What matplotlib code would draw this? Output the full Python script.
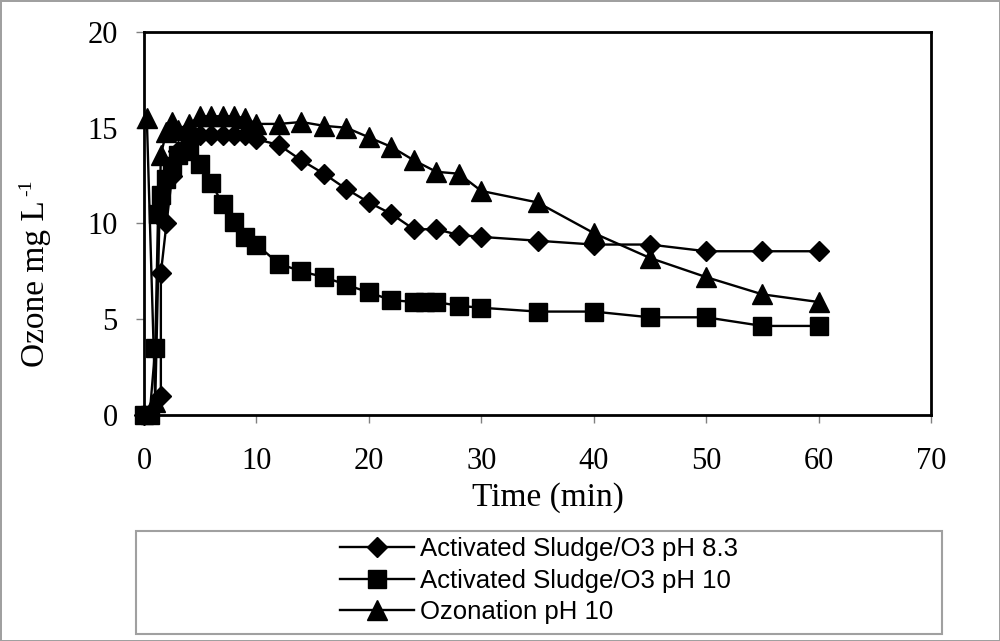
import matplotlib
matplotlib.use('Agg')
import matplotlib.pyplot as plt
from matplotlib.patches import Rectangle

# time (min) and ozone (mg/L)
t_ph83 = [0, 1.5, 1.5, 2, 2.5, 3, 4, 5, 6, 7, 8, 9, 10, 12, 14, 16, 18, 20,
          22, 24, 26, 28, 30, 35, 40, 45, 50, 55, 60]
o3_ph83 = [0, 1.0, 7.4, 10.0, 12.5, 13.8, 14.4, 14.6, 14.6, 14.6, 14.6, 14.6,
           14.4, 14.1, 13.3, 12.6, 11.8, 11.1, 10.5, 9.7, 9.7, 9.4, 9.3, 9.1,
           8.9, 8.9, 8.55, 8.55, 8.55]

t_ph10 = [0, 0.5, 1, 1.25, 1.5, 2, 2.5, 3, 4, 5, 6, 7, 8, 9, 10, 12, 14, 16,
          18, 20, 22, 24, 25, 26, 28, 30, 35, 40, 45, 50, 55, 60]
o3_ph10 = [0, 0, 3.5, 10.5, 11.5, 12.3, 13.0, 13.6, 13.8, 13.1, 12.1, 11.0,
           10.1, 9.3, 8.9, 7.9, 7.5, 7.2, 6.8, 6.4, 6.0, 5.9, 5.9, 5.9, 5.7,
           5.6, 5.4, 5.4, 5.1, 5.1, 4.65, 4.65]

t_ozon = [0.25, 1, 1.5, 2, 2.5, 3, 4, 5, 6, 7, 8, 9, 10, 12, 14, 16, 18, 20,
          22, 24, 26, 28, 30, 35, 40, 45, 50, 55, 60]
o3_ozon = [15.5, 0.7, 13.6, 14.8, 15.3, 14.9, 15.2, 15.6, 15.6, 15.6, 15.6,
           15.5, 15.2, 15.2, 15.3, 15.1, 15.0, 14.5, 14.0, 13.3, 12.7, 12.6,
           11.7, 11.1, 9.5, 8.2, 7.2, 6.3, 5.9]

labels = ['Activated Sludge/O3 pH 8.3', 'Activated Sludge/O3 pH 10',
          'Ozonation pH 10']

plt.rcParams['font.family'] = 'Liberation Serif'

fig = plt.figure(figsize=(10, 6.41), dpi=100)
fig.patch.set_edgecolor('#a0a0a0')
fig.patch.set_linewidth(2)
ax = fig.add_axes([0.144, 0.3526, 0.787, 0.5975])

l1, = ax.plot(t_ph83, o3_ph83, color='k', lw=1.7, marker='D', ms=10,
              clip_on=False, zorder=3)
l2, = ax.plot(t_ph10, o3_ph10, color='k', lw=1.7, marker='s', ms=13,
              clip_on=False, zorder=3)
l3, = ax.plot(t_ozon, o3_ozon, color='k', lw=1.7, marker='^', ms=15,
              clip_on=False, zorder=3)

ax.set_xlim(0, 70)
ax.set_ylim(0, 20)
ax.set_xticks(range(0, 71, 10))
ax.set_yticks(range(0, 21, 5))
ax.tick_params(direction='out', length=6, width=1, color='#808080',
               labelsize=22)
ax.tick_params(axis='x', pad=17)
ax.tick_params(axis='y', pad=13)
for s in ax.spines.values():
    s.set_linewidth(2)
    s.set_zorder(2.5)

fig.text(0.548, 0.224, 'Time (min)', fontsize=24, ha='center', va='center')
fig.text(0.036, 0.558, 'Ozone mg L', fontsize=24, rotation=90,
         ha='center', va='center')
fig.text(0.027, 0.707, '-1', fontsize=14, rotation=90,
         ha='center', va='center')

fig.patches.append(Rectangle((0.136, 0.011), 0.806, 0.161,
                             transform=fig.transFigure, fill=False,
                             edgecolor='#a0a0a0', lw=1.5))
fig.legend([l1, l2, l3], labels, loc='center left',
           bbox_to_anchor=(0.327, 0.094), frameon=False, numpoints=1,
           prop={'family': 'Liberation Sans', 'size': 18.5},
           handlelength=2.9, handletextpad=0.22, labelspacing=0.3,
           borderpad=0)

fig.savefig('out.png', dpi=100)
